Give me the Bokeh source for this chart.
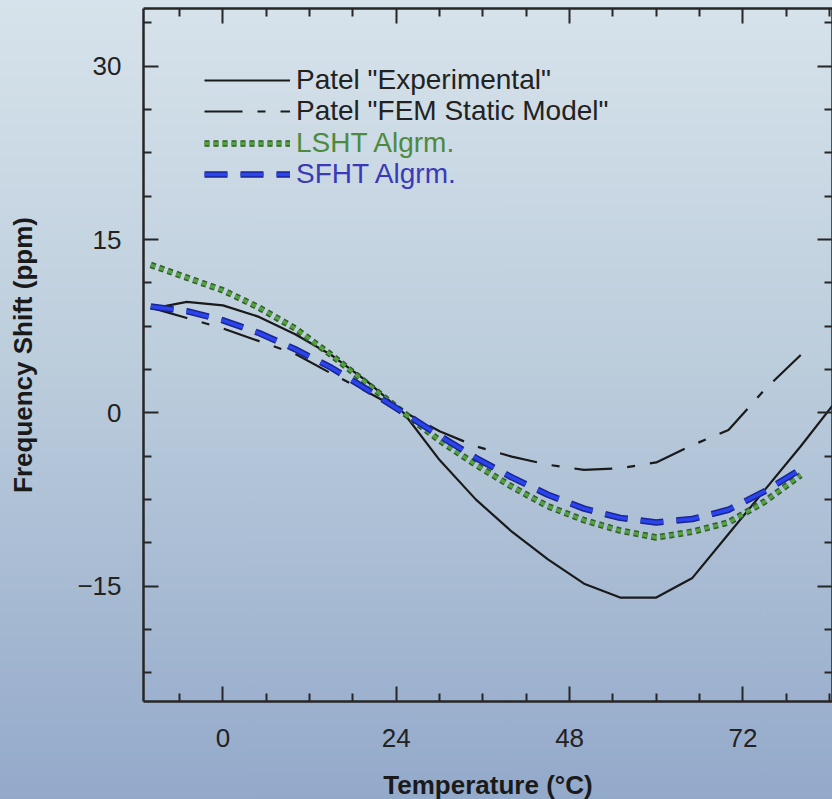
from bokeh.plotting import figure
from bokeh.models import LinearAxis, FixedTicker, Legend, LegendItem, Range1d
from bokeh.embed import file_html
from bokeh.resources import INLINE

# ---- data ----
temp = [-10, -5, 0, 5, 10, 15, 20, 25, 30, 35, 40, 45, 50, 55, 60, 65, 70, 75, 80, 85]
experimental = [9.0, 9.6, 9.3, 8.3, 6.8, 5.0, 2.7, 0.0, -4.1, -7.5, -10.3, -12.7,
                -14.8, -16.0, -16.0, -14.3, -10.5, -6.7, -2.9, 1.1]

temp_model = [-10, -5, 0, 5, 10, 15, 20, 25, 30, 35, 40, 45, 50, 55, 60, 65, 70, 75, 80]
fem_static = [9.1, 8.2, 7.3, 6.2, 5.1, 3.4, 1.8, 0.1, -1.6, -2.9, -3.8, -4.5, -4.95,
              -4.8, -4.3, -2.8, -1.5, 2.0, 5.0]
lsht = [12.8, 11.7, 10.6, 9.1, 7.3, 5.0, 2.5, 0.0, -2.4, -4.5, -6.4, -8.1, -9.3,
        -10.2, -10.8, -10.3, -9.5, -7.7, -5.4]
sfht = [9.2, 8.8, 8.0, 6.9, 5.5, 3.9, 2.0, 0.0, -2.0, -3.9, -5.6, -7.1, -8.3,
        -9.1, -9.5, -9.2, -8.4, -6.8, -4.9]

labels = ['Patel "Experimental"', 'Patel "FEM Static Model"', 'LSHT Algrm.', 'SFHT Algrm.']
x_major = [0, 24, 48, 72]
x_minor = [-6, 6, 12, 18, 30, 36, 42, 54, 60, 66, 78, 84]
y_major = [-15, 0, 15, 30]
y_minor = [-22.5, -18.75, -11.25, -7.5, -3.75, 3.75, 7.5, 11.25, 18.75, 22.5, 26.25, 33.75]

FONT = "Liberation Sans"
AX = "#262626"

p = figure(frame_width=689, frame_height=693,
           x_range=Range1d(-11, 84.4), y_range=Range1d(-25, 35),
           output_backend="svg", toolbar_location=None,
           min_border_left=143, min_border_right=0, min_border_top=8, min_border_bottom=98)
p.background_fill_alpha = 0
p.border_fill_alpha = 0
p.outline_line_alpha = 0
p.grid.visible = False
p.styles = {"background": "linear-gradient(to bottom, #d7e3eb 0%, #bccddc 45%, #93a9ca 100%)"}

xt = FixedTicker(ticks=x_major, minor_ticks=x_minor)
yt = FixedTicker(ticks=y_major, minor_ticks=y_minor)


def style_axis(ax, show_labels):
    ax.axis_line_color = AX
    ax.axis_line_width = 2.5
    ax.major_tick_line_color = AX
    ax.minor_tick_line_color = AX
    ax.major_tick_line_width = 2
    ax.minor_tick_line_width = 2
    ax.major_tick_in = 15
    ax.major_tick_out = 0
    ax.minor_tick_in = 8
    ax.minor_tick_out = 0
    if not show_labels:
        ax.major_label_text_color = None
        ax.major_label_text_font_size = "1px"
        ax.major_label_standoff = 0
    else:
        ax.major_label_text_font = FONT
        ax.major_label_text_font_size = "26px"
        ax.major_label_text_color = "#222222"
        ax.axis_label_text_font = FONT
        ax.axis_label_text_font_style = "bold"
        ax.axis_label_text_font_size = "26px"
        ax.axis_label_text_color = "#1a1a1a"


p.xaxis.ticker = xt
p.yaxis.ticker = yt
p.xaxis.axis_label = "Temperature (°C)"
p.yaxis.axis_label = "Frequency Shift (ppm)"
style_axis(p.xaxis[0], True)
style_axis(p.yaxis[0], True)
p.xaxis.major_label_standoff = 27
p.xaxis.axis_label_standoff = 20
p.yaxis.major_label_standoff = 22
p.yaxis.axis_label_standoff = 36

top = LinearAxis(ticker=xt)
right = LinearAxis(ticker=yt)
style_axis(top, False)
style_axis(right, False)
p.add_layout(top, "above")
p.add_layout(right, "right")

r_exp = p.line(temp, experimental, line_color="#1a1a1a", line_width=2.2)
r_fem = p.line(temp_model, fem_static, line_color="#1a1a1a", line_width=2.2,
               line_dash="38 15 8 15")
r_ls1 = p.line(temp_model, lsht, line_color="#2f5e27", line_width=6.5, line_dash="5 4")
r_ls2 = p.line(temp_model, lsht, line_color="#55a042", line_width=3.5, line_dash="5 4")
r_sf1 = p.line(temp_model, sfht, line_color="#1b2590", line_width=6.5, line_dash="23 13")
r_sf2 = p.line(temp_model, sfht, line_color="#2b45ee", line_width=3.5, line_dash="23 13")

rows = [
    (labels[0], [r_exp], "#222222", 605),
    (labels[1], [r_fem], "#222222", 574),
    (labels[2], [r_ls1, r_ls2], "#4e8a3e", 542),
    (labels[3], [r_sf1, r_sf2], "#3a3ab8", 511),
]
for lab, rends, col, yb in rows:
    leg = Legend(items=[LegendItem(label=lab, renderers=rends)], location=(61, yb),
                 padding=0, margin=0, spacing=0, glyph_width=86, glyph_height=32,
                 label_height=32, label_standoff=6, border_line_alpha=0,
                 background_fill_alpha=0, label_text_font=FONT,
                 label_text_font_size="28px", label_text_color=col)
    p.add_layout(leg)

html = file_html(p, INLINE)
html = html.replace("<body>", '<body style="margin:0">')
open("out.html", "w").write(html)
